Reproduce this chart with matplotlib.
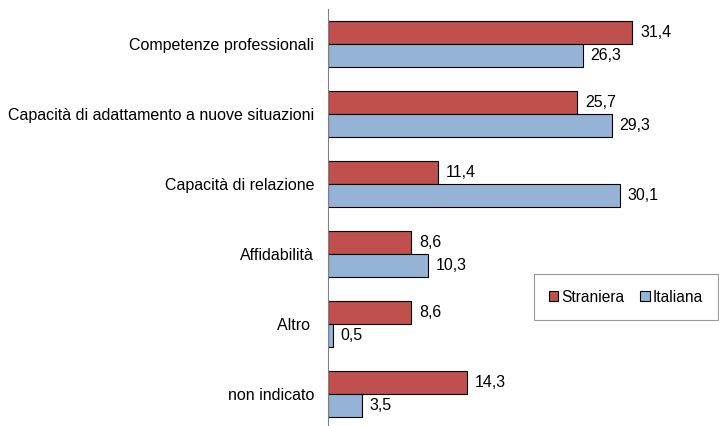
import numpy as np
import matplotlib
matplotlib.use("Agg")
import matplotlib.pyplot as plt
from matplotlib.patches import Patch

categories = ['Competenze professionali', 'Capacità di adattamento a nuove situazioni',
              'Capacità di relazione', 'Affidabilità', 'Altro ', 'non indicato']
straniera = [31.4, 25.7, 11.4, 8.6, 8.6, 14.3]
italiana = [26.3, 29.3, 30.1, 10.3, 0.5, 3.5]

red = '#C0504D'
blue = '#95B3D7'

plt.rcParams['font.family'] = ['Liberation Sans', 'DejaVu Sans']
plt.rcParams['font.size'] = 11.5

fig = plt.figure(figsize=(7.19, 4.26), dpi=100)
# axes in pixel terms: left 328, top 9, bottom 426
W, H = 719, 426
ax = fig.add_axes([328 / W, 0, (W - 328) / W, (426 - 9) / H])

y = np.arange(len(categories))
h = 0.33
ax.barh(y - h / 2, straniera, height=h, color=red, edgecolor='black', linewidth=0.8, label='Straniera')
ax.barh(y + h / 2, italiana, height=h, color=blue, edgecolor='black', linewidth=0.8, label='Italiana')

for i in range(len(categories)):
    ax.text(straniera[i] + 0.8, y[i] - h / 2, f"{straniera[i]:.1f}".replace('.', ','), va='center', ha='left')
    ax.text(italiana[i] + 0.8, y[i] + h / 2, f"{italiana[i]:.1f}".replace('.', ','), va='center', ha='left')

ax.set_xlim(0, (W - 328) / 9.69)
ax.set_ylim(5.457, -0.5)
ax.set_yticks(y)
ax.set_yticklabels(categories)
ax.tick_params(axis='y', length=0, pad=10)
ax.set_xticks([])
for s in ['top', 'right', 'bottom']:
    ax.spines[s].set_visible(False)
ax.spines['left'].set_color('#808080')
ax.spines['left'].set_linewidth(0.8)

handles = [Patch(facecolor=red, edgecolor='black', linewidth=0.8, label='Straniera'),
           Patch(facecolor=blue, edgecolor='black', linewidth=0.8, label='Italiana')]
leg = fig.legend(handles=handles, ncol=2, loc='center', bbox_to_anchor=(626 / W, 1 - 297 / H),
                 frameon=True, fancybox=False, fontsize=11.2, handlelength=0.6, handleheight=0.6,
                 handletextpad=0.2, columnspacing=1.0, borderpad=1.0, borderaxespad=0)
leg.get_frame().set_edgecolor('#808080')
leg.get_frame().set_linewidth(0.8)

fig.savefig('out.png', dpi=100)
